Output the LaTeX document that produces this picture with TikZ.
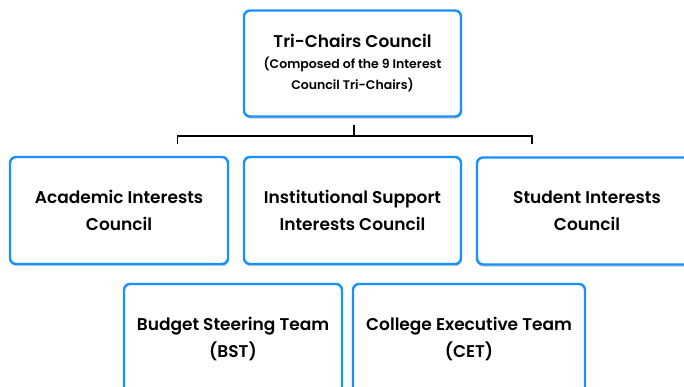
\documentclass[tikz,border=0pt]{standalone}
\usepackage{fontspec}
\setmainfont{Poppins}[UprightFont=* SemiBold]
\usetikzlibrary{shadows}
\definecolor{boxblue}{RGB}{24,144,255}
\begin{document}
\begin{tikzpicture}[x=1pt,y=-1pt,
    council/.style={draw=boxblue,line width=2.4pt,rounded corners=6pt,fill=white,
      align=center,font=\fontsize{17}{27}\selectfont,
      drop shadow={shadow xshift=0.6pt,shadow yshift=-2.2pt,opacity=.35,fill=black!60}},
    composed/.style={font=\fontsize{12.5}{21}\selectfont}]
    \useasboundingbox (0,0) rectangle (684,387);
    \clip (0,0) rectangle (684,387);

    % Top box
    \node[council,composed,minimum width=217pt,minimum height=106pt] (tri) at (352.5,63.5)
      {{\fontsize{17}{21}\selectfont Tri-Chairs Council}\\(Composed of the 9 Interest\\Council Tri-Chairs)};

    % Interest councils
    \node[council,minimum width=218pt,minimum height=107pt] (aic) at (119,210.5) {Academic Interests\\Council};
    \node[council,minimum width=217pt,minimum height=107pt] (isic) at (352.5,210.5) {Institutional Support\\Interests Council};
    \node[council,minimum width=220pt,minimum height=107pt] (sic) at (587,211) {Student Interests\\Council};

    % Teams
    \node[council,minimum width=218pt,minimum height=110pt] (bst) at (233,339) {Budget Steering Team\\(BST)};
    \node[council,minimum width=232pt,minimum height=110pt] (cet) at (469,339) {College Executive Team\\(CET)};

    % Bracket under the top box
    \coordinate (mid) at (354,136);
    \coordinate (left) at (177.5,136);
    \coordinate (right) at (532,136);
    \draw[line width=1.2pt] (tri.south -| mid) ++(0,7) -- (mid);
    \draw[line width=1.2pt] (left) ++(0,8) -- (left) -- (right) -- ++(0,8);
\end{tikzpicture}
\end{document}
